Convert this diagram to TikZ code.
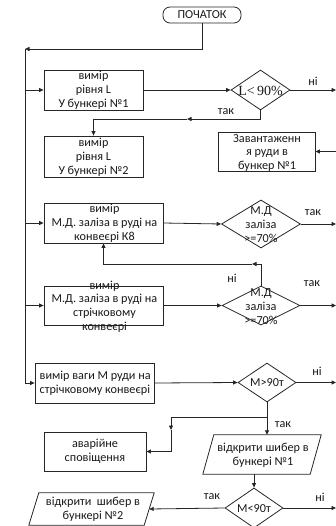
\documentclass[tikz,border=0pt]{standalone}
\usepackage{fontspec}
\newfontfamily\carl{Carlito}
\newfontfamily\tnr{Liberation Serif}
\usetikzlibrary{shapes.geometric,arrows.meta}
\tikzset{
  ln/.style={draw=black!85, line width=0.8pt},
  arr/.style={ln, -{Triangle[length=4.5pt,width=4pt]}},
  shp/.style={ln, rectangle, inner sep=0pt, minimum width=#1},
  dia/.style={ln, diamond, inner sep=0pt},
  txt/.style={inner sep=0pt, align=center, font=\carl\fontsize{12.2}{13.8}\selectfont, text=black!90},
  lbl/.style={inner sep=0pt, font=\carl\fontsize{12.2}{13.8}\selectfont, text=black!90},
  ghost/.style={inner sep=0pt, rectangle}
}
\begin{document}
\begin{tikzpicture}[x=1pt, y=-1pt]
\useasboundingbox (0,0) rectangle (336,526);
\clip (0,0) rectangle (336,526);

% start terminal
\node[ln, rectangle, rounded corners=7pt, minimum width=78pt, minimum height=16pt, inner sep=0pt] (start) at (202,15) {};
\node[txt] (startt) at (start) {ПОЧАТОК};

% process boxes
\node[shp=99pt, minimum height=40pt] (b1) at (93.5,90) {};
\node[txt] (b1t) at (93.5,90.5) {вимір\\рівня L\\У бункері №1};

\node[shp=99pt, minimum height=41pt] (b2) at (93.5,156.5) {};
\node[txt] (b2t) at (93.5,157.5) {вимір\\рівня L\\У бункері №2};

\node[shp=97pt, minimum height=39pt] (b7) at (266.5,151.5) {};
\node[txt] (b7t) at (267,153) {Завантаженн\\я руди в\\бункер №1};

\node[shp=119pt, minimum height=40pt] (b3) at (103.5,223) {};
\node[txt] (b3t) at (104.5,223.5) {вимір\\М.Д. заліза в руді на\\конвеєрі К8};

\node[shp=119pt, minimum height=39pt] (b4) at (103.5,305.5) {};
\node[txt] (b4t) at (104.5,306.5) {вимір\\М.Д. заліза в руді на\\стрічковому\\конвеєрі};

\node[shp=119pt, minimum height=40pt] (b5) at (94.5,383) {};
\node[txt, anchor=west, align=left] (b5t) at (39.5,383.5) {вимір ваги М руди на\\стрічковому конвеєрі};

\node[shp=102pt, minimum height=39pt] (b6) at (95,451.5) {};
\node[txt] (b6t) at (95,451.5) {аварійне\\сповіщення};

% decisions
\node[dia, minimum width=59pt, minimum height=40pt] (d1) at (260.5,90) {};
\node[inner sep=0pt, font=\tnr\fontsize{14}{16}\selectfont, text=black!90] (d1t) at (260.5,90.5) {L<\,90\%};

\node[dia, minimum width=79pt, minimum height=48pt] (d2) at (261,224) {};
\node[txt] (d2t) at (261,224.5) {М.Д\\заліза\\>=70\%};

\node[dia, minimum width=78pt, minimum height=39pt] (d3) at (261,305.5) {};
\node[txt] (d3t) at (261,306.5) {М.Д\\заліза\\>=70\%};

\node[dia, minimum width=58pt, minimum height=39pt] (d4) at (267,382.5) {};
\node[txt] (d4t) at (267,383) {М>90т};

\node[dia, minimum width=58pt, minimum height=40pt] (d5) at (254,508) {};
\node[txt] (d5t) at (254,508.5) {М<90т};

% input/output parallelograms
\node[ghost, minimum width=118pt, minimum height=39pt] (p1) at (262,454.5) {};
\draw[ln] ([xshift=11pt]p1.north west) -- (p1.north east) -- ([xshift=-11pt]p1.south east) -- (p1.south west) -- cycle;
\node[txt] (p1t) at (263,455) {відкрити шибер в\\бункері №1};

\node[ghost, minimum width=125pt, minimum height=32pt] (p2) at (91.5,509) {};
\draw[ln] ([xshift=10pt]p2.north west) -- (p2.north east) -- ([xshift=-10pt]p2.south east) -- (p2.south west) -- cycle;
\coordinate (p2e) at ([xshift=-5pt]p2.east);
\node[txt] (p2t) at (93,509.5) {відкрити\ \ шибер в\\бункері №2};

% branch labels
\node[lbl] (l1) at (313,81) {ні};
\node[lbl] (l2) at (226,112) {так};
\node[lbl] (l3) at (313,213) {так};
\node[lbl] (l4) at (232,278) {ні};
\node[lbl] (l5) at (312,284) {так};
\node[lbl] (l6) at (317,371) {ні};
\node[lbl] (l7) at (283,425) {так};
\node[lbl] (l8) at (212,497) {так};
\node[lbl] (l9) at (320,497) {ні};

% helper points
\coordinate (top) at (25,49);
\coordinate (bot) at (25,383);
\coordinate (e1) at (336,90);
\coordinate (e7) at (336,151.5);
\coordinate (e2) at (336,224);
\coordinate (e3) at (336,305.5);
\coordinate (e4) at (336,382.5);
\coordinate (e5) at (336,508);
\coordinate (m1) at (187,119);
\coordinate (m3) at (252,264);
\coordinate (j4) at (267,417);
\coordinate (m4) at (171,430);

% main return line on the left
\draw[arr] (start.south) |- (top);
\draw[ln] (top) -- (bot);
\draw[arr] (bot) -- (b5.west);
\draw[arr] (b1.west -| top) -- (b1.west);
\draw[arr] (b3.west -| top) -- (b3.west);
\draw[arr] (b4.west -| top) -- (b4.west);

% level check
\draw[arr] (b1.east) -- (d1.west);
\draw[arr] (d1.east) -- (e1);
\draw[arr] (d1.south) |- (m1);
\draw[arr] (m1) -| (b2.north);
\draw[arr] (e7) -- (b7.east);

% iron content checks
\draw[arr] (b3.east) -- (d2.west);
\draw[arr] (d2.east) -- (e2);
\draw[arr] (b4.east) -- (d3.west);
\draw[arr] (d3.east) -- (e3);
\draw[arr] (d3.north) |- (m3);
\draw[arr] (m3) -| (b3.south);

% weight check
\draw[arr] (b5.east) -- (d4.west);
\draw[arr] (d4.east) -- (e4);
\draw[ln] (d4.south) -- (j4);
\draw[arr] (j4) -- (d4.south |- p1.north);
\draw[arr] (j4) -| (m4);
\draw[arr] (m4) |- (b6.east);
\draw[arr] (d5.north |- p1.south) -- (d5.north);
\draw[arr] (d5.west) -- (p2e);
\draw[arr] (d5.east) -- (e5);
\end{tikzpicture}
\end{document}
